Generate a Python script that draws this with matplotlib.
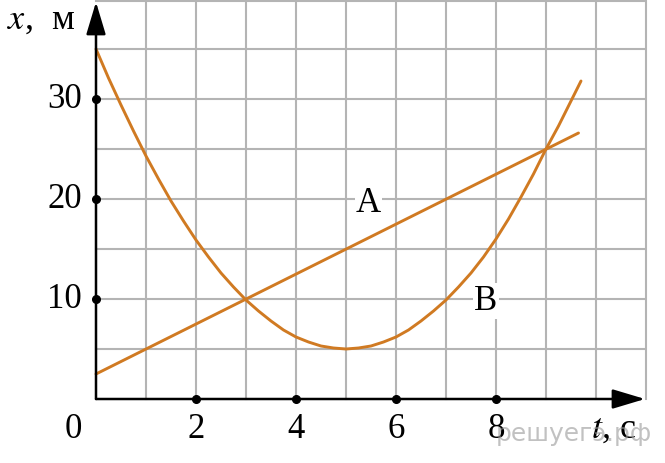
import numpy as np
import matplotlib
matplotlib.use("Agg")
import matplotlib.pyplot as plt

plt.rcParams["mathtext.fontset"] = "stix"

# данные
t_a = [0, 9.65]
x_a = [2.5, 26.6]

t_b = [0, 0.25, 0.5, 0.75, 1, 1.25, 1.5, 1.75, 2, 2.25, 2.5, 2.75, 3, 3.25, 3.5, 3.75,
       4, 4.25, 4.5, 4.75, 5, 5.25, 5.5, 5.75, 6, 6.25, 6.5, 6.75, 7, 7.25, 7.5, 7.75,
       8, 8.25, 8.5, 8.75, 9, 9.25, 9.5, 9.7]
x_b = [35.0, 32.1, 29.4, 26.8, 24.3, 22.0, 19.8, 17.8, 15.9, 14.2, 12.6, 11.2, 9.9, 8.8, 7.8, 6.9,
       6.2, 5.7, 5.3, 5.1, 5.0, 5.1, 5.3, 5.7, 6.2, 6.9, 7.8, 8.8, 9.9, 11.2, 12.6, 14.2,
       16.0, 18.0, 20.2, 22.5, 25.0, 27.3, 29.8, 31.8]

t_ticks = [2, 4, 6, 8]
x_ticks = [10, 20, 30]

orange = "#d07a22"
grid_c = "#b4b4b4"
serif = "Liberation Serif"

fig = plt.figure(figsize=(6.65, 4.64), dpi=100)
ax = fig.add_axes([0, 0, 1, 1])
ax.set_xlim(-1.92, 11.38)
ax.set_ylim(-6.4, 40.0)
ax.axis("off")

# сетка
for t in range(1, 12):
    ax.plot([t, t], [0, 39.8], color=grid_c, lw=1.5, zorder=1)
for x in range(5, 41, 5):
    ax.plot([0, 10.95], [min(x, 39.8), min(x, 39.8)], color=grid_c, lw=1.5, zorder=1)

# оси со стрелками
arrow = dict(arrowstyle="-|>,head_length=2.0,head_width=0.6",
             color="black", lw=1.8, shrinkA=0, shrinkB=0)
ax.annotate("", xy=(10.98, 0), xytext=(0, 0), arrowprops=arrow, zorder=5)
ax.annotate("", xy=(0, 39.7), xytext=(0, 0), arrowprops=arrow, zorder=5)

# графики
ax.plot(t_a, x_a, color=orange, lw=2.1, solid_capstyle="round", zorder=3)
ax.plot(t_b, x_b, color=orange, lw=2.1, solid_capstyle="round",
        solid_joinstyle="round", zorder=3)

# точки и подписи делений
ax.plot(t_ticks, [0] * len(t_ticks), "o", color="black", ms=5.5, zorder=6)
ax.plot([0] * len(x_ticks), x_ticks, "o", color="black", ms=5.5, zorder=6)
for t in t_ticks:
    ax.text(t, -3.0, str(t), ha="center", va="center", fontsize=25, family=serif)
for x in x_ticks:
    ax.text(-0.28, x, str(x), ha="right", va="center", fontsize=25, family=serif)
ax.text(-0.46, -3.0, "0", ha="center", va="center", fontsize=25, family=serif)

# подписи осей
ax.text(-1.78, 38.0, "$x$,  м", ha="left", va="center", fontsize=26, family=serif)
ax.text(9.9, -2.9, "$t$, c", ha="left", va="center", fontsize=26, family=serif)

ax.text(5.45, 19.6, "A", ha="center", va="center", fontsize=25, family=serif,
        bbox=dict(facecolor="white", edgecolor="none", pad=1), zorder=4)
ax.text(7.8, 9.8, "B", ha="center", va="center", fontsize=25, family=serif,
        bbox=dict(facecolor="white", edgecolor="none", pad=1), zorder=4)

# водяной знак
ax.text(8.0, -3.4, "решуегэ.рф", ha="left", va="center", fontsize=18,
        family="DejaVu Sans", color="#999999", alpha=0.6, zorder=7)

fig.savefig("out.png", dpi=100)
